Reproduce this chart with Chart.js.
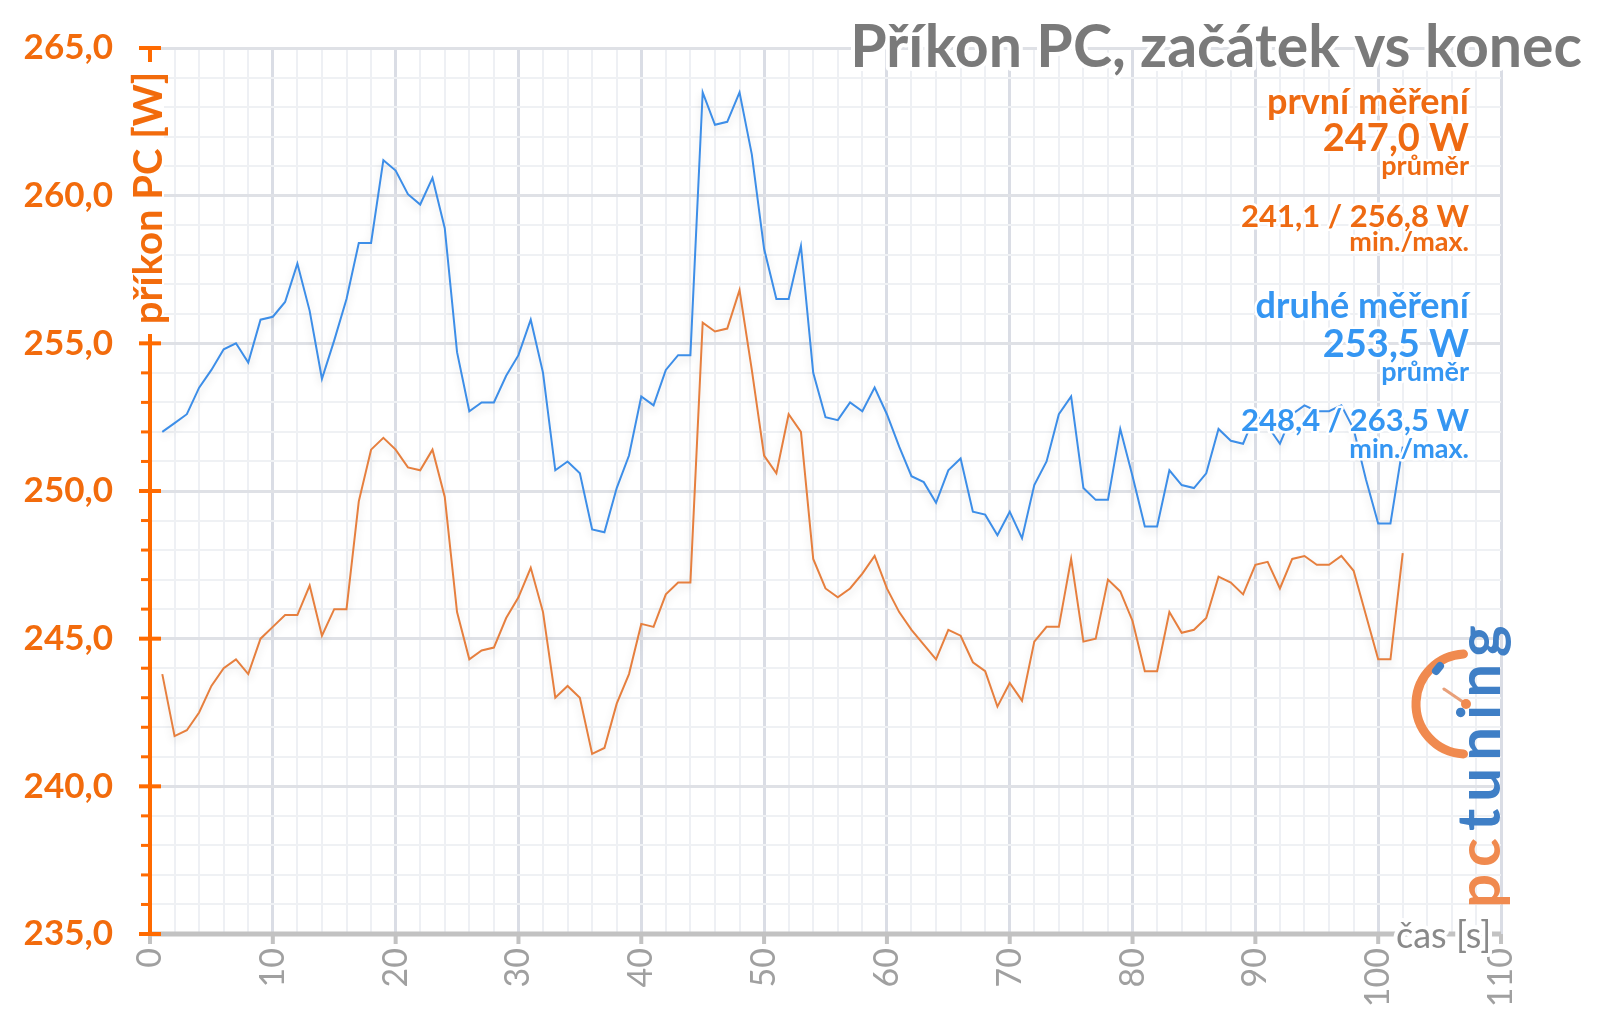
<!DOCTYPE html>
<html>
<head>
<meta charset="utf-8">
<script src="https://cdn.jsdelivr.net/npm/chart.js@4.4.1/dist/chart.umd.min.js"></script>
<style>
  body { margin: 0; background: #fff; }
  #wrap { width: 1600px; height: 1017px; }
</style>
</head>
<body>
<div id="wrap"><canvas id="prikonChart" width="1600" height="1017"></canvas></div>
<script>
// příkon PC [W], jedna hodnota za sekundu (1..102 s)
const prvniMereni = [
  243.8, 241.7, 241.9, 242.5, 243.4, 244.0, 244.3, 243.8, 245.0, 245.4,
  245.8, 245.8, 246.8, 245.1, 246.0, 246.0, 249.65, 251.4, 251.8, 251.4,
  250.8, 250.7, 251.4, 249.8, 245.9, 244.3, 244.6, 244.7, 245.7, 246.4,
  247.4, 245.9, 243.0, 243.4, 243.0, 241.1, 241.3, 242.8, 243.8, 245.5,
  245.4, 246.5, 246.9, 246.9, 255.7, 255.4, 255.5, 256.8, 254.1, 251.2,
  250.6, 252.6, 252.0, 247.7, 246.7, 246.4, 246.7, 247.2, 247.8, 246.7,
  245.9, 245.3, 244.8, 244.3, 245.3, 245.1, 244.2, 243.9, 242.7, 243.5,
  242.9, 244.9, 245.4, 245.4, 247.7, 244.9, 245.0, 247.0, 246.6, 245.6,
  243.9, 243.9, 245.9, 245.2, 245.3, 245.7, 247.1, 246.9, 246.5, 247.5,
  247.6, 246.7, 247.7, 247.8, 247.5, 247.5, 247.8, 247.3, 245.8, 244.3,
  244.3, 247.9
];
const druheMereni = [
  252.0, 252.3, 252.6, 253.5, 254.1, 254.8, 255.0, 254.35, 255.8, 255.9,
  256.4, 257.7, 256.1, 253.8, 255.1, 256.5, 258.4, 258.4, 261.2, 260.85,
  260.05, 259.7, 260.6, 258.9, 254.7, 252.7, 253.0, 253.0, 253.9, 254.6,
  255.8, 254.0, 250.7, 251.0, 250.6, 248.7, 248.6, 250.1, 251.2, 253.2,
  252.9, 254.1, 254.6, 254.6, 263.5, 262.4, 262.5, 263.5, 261.4, 258.2,
  256.5, 256.5, 258.3, 254.0, 252.5, 252.4, 253.0, 252.7, 253.5, 252.6,
  251.5, 250.5, 250.3, 249.6, 250.7, 251.1, 249.3, 249.2, 248.5, 249.3,
  248.4, 250.2, 251.0, 252.6, 253.2, 250.1, 249.7, 249.7, 252.1, 250.5,
  248.8, 248.8, 250.7, 250.2, 250.1, 250.6, 252.1, 251.7, 251.6, 252.6,
  252.2, 251.6, 252.6, 252.9, 252.7, 252.7, 252.9, 252.1, 250.4, 248.9,
  248.9, 251.5
];
const sekundy = prvniMereni.map((_, i) => i + 1);

const nadpis = 'Příkon PC, začátek vs konec';
const osaY = 'příkon PC [W]';
const osaX = 'čas [s]';
const prvniSouhrn = ['první měření', '247,0 W', 'průměr', '241,1 / 256,8 W', 'min./max.'];
const druheSouhrn = ['druhé měření', '253,5 W', 'průměr', '248,4 / 263,5 W', 'min./max.'];

const FONT = 'Lato, "Open Sans", sans-serif';
const ORANZOVA = '#ee6a12';
const MODRA = '#3596f2';

function haloText(ctx, text, x, y, w) {
  ctx.lineJoin = 'round';
  ctx.strokeStyle = '#fff';
  ctx.lineWidth = w;
  ctx.strokeText(text, x, y);
  ctx.fillText(text, x, y);
}

const lineShadow = {
  id: 'lineShadow',
  beforeDatasetDraw(chart) {
    const c = chart.ctx;
    c.save();
    c.shadowColor = 'rgba(0,0,0,0.14)';
    c.shadowBlur = 8;
    c.shadowOffsetY = 4;
  },
  afterDatasetDraw(chart) {
    chart.ctx.restore();
  }
};

const decor = {
  id: 'decor',
  beforeDatasetsDraw(chart) {
    const { ctx, chartArea: a, scales: { x, y } } = chart;
    ctx.save();
    ctx.lineCap = 'butt';
    // osa x
    ctx.strokeStyle = '#c2c2c2';
    ctx.lineWidth = 5;
    ctx.beginPath();
    ctx.moveTo(a.left, a.bottom);
    ctx.lineTo(a.right, a.bottom);
    ctx.stroke();
    ctx.lineWidth = 4;
    for (let v = 0; v <= 110; v += 10) {
      const px = x.getPixelForValue(v);
      ctx.beginPath();
      ctx.moveTo(px, a.bottom);
      ctx.lineTo(px, a.bottom + 10);
      ctx.stroke();
    }
    // osa y
    ctx.strokeStyle = '#ff6a00';
    ctx.lineWidth = 4;
    ctx.beginPath();
    ctx.moveTo(a.left, a.top);
    ctx.lineTo(a.left, a.bottom + 2);
    ctx.stroke();
    for (let v = 235; v <= 265; v++) {
      const py = y.getPixelForValue(v);
      const major = v % 5 === 0;
      ctx.lineWidth = major ? 4 : 3;
      ctx.beginPath();
      ctx.moveTo(a.left - (major ? 11 : 9), py);
      ctx.lineTo(a.left + (major ? 11 : 0), py);
      ctx.stroke();
    }
    // popisek osy y (bílý podklad přes osu)
    ctx.fillStyle = '#fff';
    ctx.fillRect(a.left - 24, 62, 38, 272);
    ctx.translate(a.left + 12, 198);
    ctx.rotate(-Math.PI / 2);
    ctx.font = 'bold 40px ' + FONT;
    ctx.textAlign = 'center';
    ctx.textBaseline = 'alphabetic';
    ctx.fillStyle = '#f26b0c';
    ctx.fillText(osaY, 0, 0);
    ctx.restore();
  },
  afterDraw(chart) {
    const { ctx, chartArea: a } = chart;
    ctx.save();

    // nadpis
    ctx.font = 'bold 59px ' + FONT;
    ctx.fillStyle = '#7a7a7a';
    ctx.textAlign = 'right';
    ctx.textBaseline = 'middle';
    haloText(ctx, nadpis, 1582, 48, 8);

    // souhrny
    const rows = [
      [prvniSouhrn[0], 36, 102, ORANZOVA], [prvniSouhrn[1], 38, 139, ORANZOVA],
      [prvniSouhrn[2], 27, 166, ORANZOVA], [prvniSouhrn[3], 31, 217, ORANZOVA],
      [prvniSouhrn[4], 27, 242, ORANZOVA],
      [druheSouhrn[0], 36, 306, MODRA], [druheSouhrn[1], 38, 345, MODRA],
      [druheSouhrn[2], 27, 372, MODRA], [druheSouhrn[3], 31, 421, MODRA],
      [druheSouhrn[4], 27, 449, MODRA]
    ];
    rows.forEach(([t, size, py, col]) => {
      ctx.font = 'bold ' + size + 'px ' + FONT;
      ctx.fillStyle = col;
      haloText(ctx, t, 1469, py, 5);
    });

    // popisek osy x
    ctx.font = '36px ' + FONT;
    ctx.fillStyle = '#8a8a8a';
    ctx.textAlign = 'left';
    haloText(ctx, osaX, 1396, a.bottom + 2, 8);

    // logo
    const cx = 1466, cy = 704;
    ctx.lineCap = 'round';
    ctx.strokeStyle = '#f08a4f';
    ctx.lineWidth = 9;
    ctx.beginPath();
    ctx.arc(cx, cy, 50, Math.PI * 0.5 + 0.05, Math.PI * 1.5 - 0.05);
    ctx.stroke();
    ctx.strokeStyle = '#3f7fc6';
    ctx.lineWidth = 8;
    ctx.beginPath();
    ctx.moveTo(cx - 30, cy - 33);
    ctx.lineTo(cx - 26, cy - 38);
    ctx.stroke();
    ctx.strokeStyle = '#e8a07a';
    ctx.lineWidth = 3;
    ctx.beginPath();
    ctx.moveTo(cx, cy);
    ctx.lineTo(cx - 22, cy - 15);
    ctx.stroke();
    ctx.fillStyle = '#f08a4f';
    ctx.beginPath();
    ctx.arc(cx, cy, 5, 0, Math.PI * 2);
    ctx.fill();

    ctx.translate(1500, 908);
    ctx.rotate(-Math.PI / 2);
    ctx.font = 'bold 60px ' + FONT;
    ctx.textAlign = 'left';
    ctx.textBaseline = 'alphabetic';
    ctx.letterSpacing = '7px';
    ctx.fillStyle = '#f08a4f';
    ctx.fillText('pc', 0, 0);
    const w = ctx.measureText('pc').width;
    ctx.fillStyle = '#3f7fc6';
    ctx.fillText('tuning', w, 0);

    ctx.restore();
  }
};

const ctx = document.getElementById('prikonChart').getContext('2d');
const chart = new Chart(ctx, {
  type: 'line',
  data: {
    datasets: [
      {
        label: 'druhé měření',
        data: sekundy.map((s, i) => ({ x: s, y: druheMereni[i] })),
        borderColor: '#3d8ee8',
        borderWidth: 2,
        pointRadius: 0,
        tension: 0
      },
      {
        label: 'první měření',
        data: sekundy.map((s, i) => ({ x: s, y: prvniMereni[i] })),
        borderColor: '#e67f3e',
        borderWidth: 2,
        pointRadius: 0,
        tension: 0
      }
    ]
  },
  options: {
    responsive: false,
    animation: false,
    layout: { padding: { left: 0, right: 99, top: 48, bottom: 0 } },
    plugins: {
      legend: { display: false },
      tooltip: { enabled: false }
    },
    scales: {
      x: {
        type: 'linear',
        min: 0,
        max: 110,
        afterFit: s => { s.height = 83; s.paddingLeft = 0; s.paddingRight = 0; },
        border: { display: false },
        grid: {
          drawTicks: false,
          color: c => (c.tick && c.tick.value % 10 === 0 ? '#dadde5' : '#eef0f4'),
          lineWidth: c => (c.tick && c.tick.value % 10 === 0 ? 3 : 2)
        },
        ticks: {
          stepSize: 2,
          autoSkip: false,
          minRotation: 90,
          maxRotation: 90,
          padding: 14,
          color: '#a0a0a0',
          font: { family: FONT, size: 34 },
          callback: v => (v % 10 === 0 ? String(v) : '')
        }
      },
      y: {
        min: 235,
        max: 265,
        afterFit: s => { s.width = 150; s.paddingTop = 0; s.paddingBottom = 0; },
        border: { display: false },
        grid: {
          drawTicks: false,
          color: c => (c.tick && Math.round(c.tick.value) % 5 === 0 ? '#dfe1e6' : '#eff1f4'),
          lineWidth: c => (c.tick && Math.round(c.tick.value) % 5 === 0 ? 3 : 2)
        },
        ticks: {
          stepSize: 1,
          autoSkip: false,
          padding: 37,
          color: '#f26b0c',
          font: { family: FONT, size: 35, weight: 'bold' },
          callback: v => {
            const r = Math.round(v);
            return r % 5 === 0 ? r.toFixed(1).replace('.', ',') : '';
          }
        }
      }
    }
  },
  plugins: [lineShadow, decor]
});
</script>
</body>
</html>
